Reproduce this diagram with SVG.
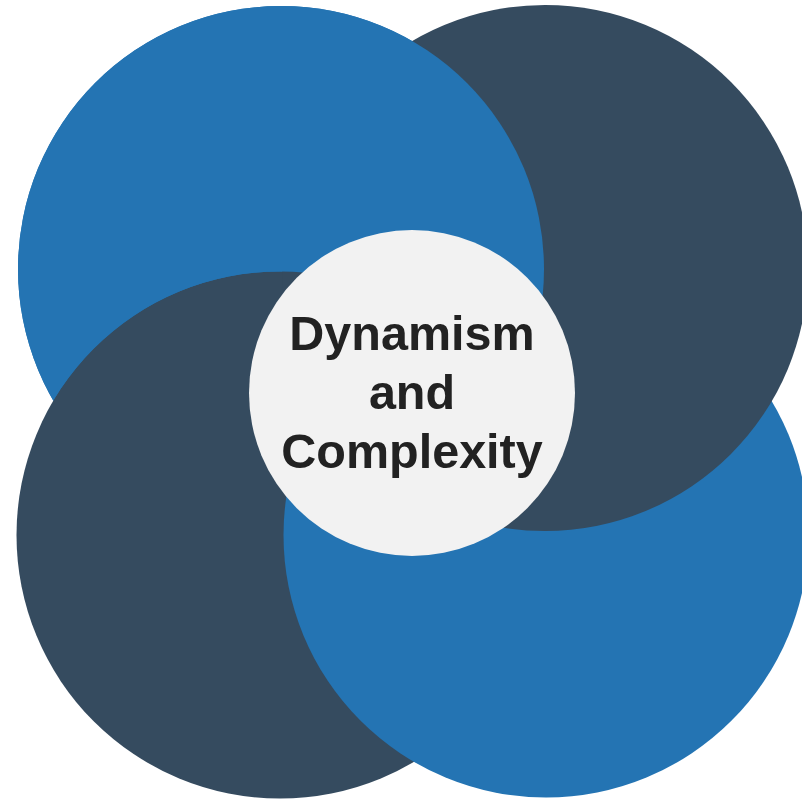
<svg xmlns="http://www.w3.org/2000/svg" width="802" height="801" viewBox="0 0 802 801">
<style>
.blue{fill:#2474b3}
.dark{fill:#354b5f}
.hub{fill:#f2f2f2}
.label{font-family:"Liberation Sans",Arial,sans-serif;font-weight:bold;font-size:48.5px;fill:#222222;text-anchor:middle}
</style>
<defs>
<clipPath id="outsideBottomLeft"><path clip-rule="evenodd" d="M-10 -10H812V811H-10Z M16.5 535a263.5 263.5 0 1 0 527 0a263.5 263.5 0 1 0 -527 0Z"/></clipPath>
</defs>
<rect width="802" height="801" fill="#ffffff"/>
<g id="petal-top-left"><circle class="blue" cx="281" cy="269" r="263"/></g>
<g id="petal-bottom-left"><circle class="dark" cx="280" cy="535" r="263.5"/></g>
<g id="petal-bottom-right"><circle class="blue" cx="546" cy="535" r="262.5"/></g>
<g id="petal-top-right"><circle class="dark" cx="545" cy="268" r="263"/></g>
<g id="petal-top-left-overlap"><circle class="blue" cx="281" cy="269" r="263" clip-path="url(#outsideBottomLeft)"/></g>
<g id="connectors"></g>
<g id="hub">
<circle class="hub" cx="412" cy="393" r="163"/>
<text class="label" x="412" y="350">Dynamism</text>
<text class="label" x="412" y="409">and</text>
<text class="label" x="412" y="468">Complexity</text>
</g>
</svg>
